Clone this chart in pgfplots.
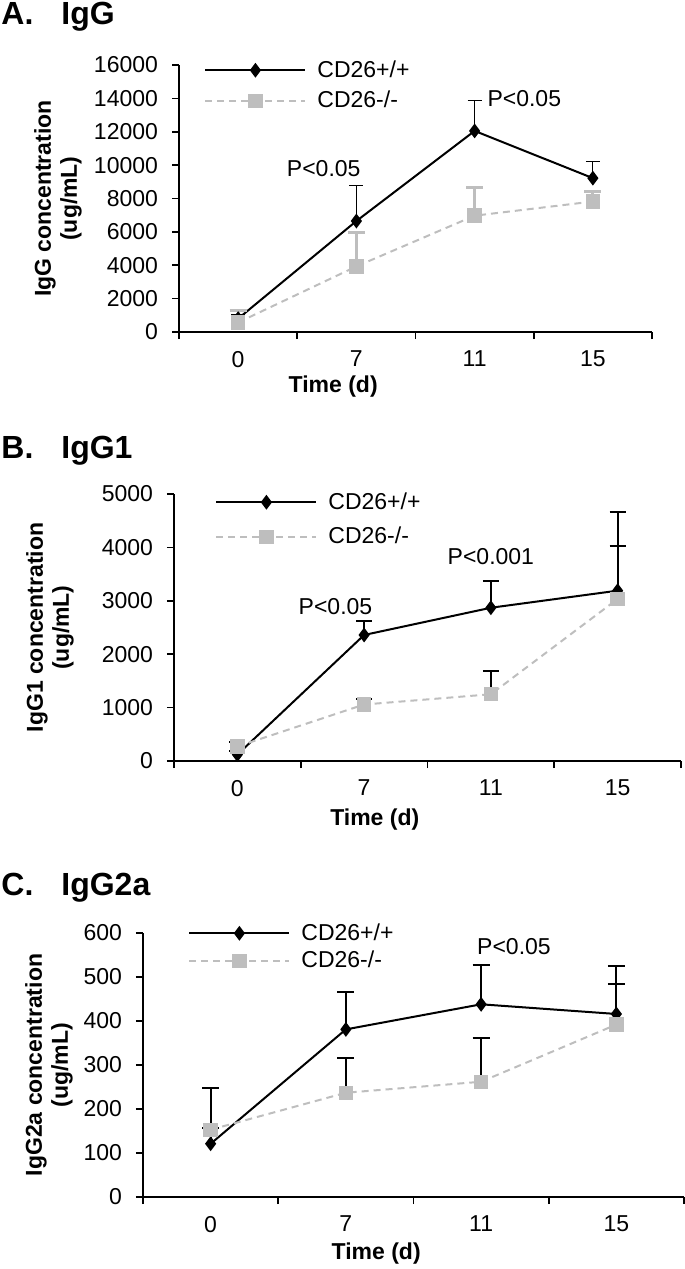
\documentclass[border=0pt]{standalone}
\usepackage{fontspec}
\setmainfont{Liberation Sans}
\usepackage{pgfplots}
\pgfplotsset{compat=1.18}

\definecolor{kogray}{RGB}{190,190,190}
\newcommand{\fs}{\fontsize{11.5}{13}\selectfont}

\pgfplotsset{
  igg/.style={
    scale only axis,
    anchor=south west,
    xmin=-0.5, xmax=3.5, ymin=0,
    axis x line*=bottom, axis y line*=left,
    axis line style={line width=0.9pt, -},
    xtick={0,1,2,3}, xticklabels={0,7,11,15},
    minor xtick={-0.5,0.5,1.5,2.5,3.5},
    major x tick style={draw=none},
    tick align=outside,
    major tick length=3.5pt, minor tick length=3.5pt,
    tick style={line width=0.8pt, black},
    scaled y ticks=false,
    /pgf/number format/assume math mode=true,
    /pgf/number format/1000 sep={},
    tick label style={font=\fs},
    yticklabel style={xshift=-3.5pt},
    xticklabel style={yshift=-2.5pt},
    label style={font=\bfseries\fs},
    ylabel style={anchor=center, align=center, rotate=0},
    xlabel style={anchor=center},
    legend style={draw=none, fill=none, inner sep=0pt, anchor=north west,
      cells={anchor=west}, font=\fs, column sep=3.5pt},
    legend image code/.code={\draw[mark repeat=2,mark phase=2,##1] plot coordinates {(0pt,0pt) (25pt,0pt) (50pt,0pt)};},
    clip=false,
  },
  wt/.style={black, line width=1pt, mark=diamond*, mark size=2.9pt,
    mark options={solid, fill=black}},
  ko/.style={kogray, line width=1pt, dash pattern=on 3.5pt off 2.5pt, mark=square*,
    mark size=3.1pt, mark options={solid, fill=kogray, draw=kogray}},
}

\begin{document}
\begin{tikzpicture}
\useasboundingbox (0,0) rectangle (342.5pt,-634.5pt);

% titles
\tikzset{ttl/.style={anchor=base west, inner sep=0pt, font=\bfseries\fontsize{16}{19}\selectfont}}
\node[ttl] at (0.5pt,-12.5pt) {A.};
\node[ttl] at (30.5pt,-12.5pt) {IgG};
\node[ttl] at (0.5pt,-229pt) {B.};
\node[ttl] at (30.5pt,-229pt) {IgG1};
\node[ttl] at (0.5pt,-447.5pt) {C.};
\node[ttl] at (30.5pt,-447.5pt) {IgG2a};

% ---- A. IgG
\begin{axis}[igg,
  at={(89.5pt,-166pt)}, width=236.5pt, height=133.5pt,
  ymax=16000, ytick={0,2000,...,16000},
  xlabel={Time (d)}, xlabel style={at={(axis description cs:0.326,-0.206)}},
  ylabel={IgG concentration\\(ug/mL)}, ylabel style={at={(axis description cs:-0.2558,0.5)}},
  legend style={at={(axis description cs:0.0529,1.0337)}, row sep=1.5pt},
]
\addplot[wt, error bars/.cd, y dir=plus, y explicit,
  error bar style={line width=0.5pt, black, solid},
  error mark options={rotate=90, black, line width=0.5pt, mark size=3.5pt, solid}]
  coordinates {(0,800) +- (0,220) (1,6650) +- (0,2100) (2,12050) +- (0,1800) (3,9220) +- (0,1020)};
\addlegendentry{\fs CD26+/+}
\addplot[ko, error bars/.cd, y dir=plus, y explicit,
  error bar style={line width=1.5pt, kogray, solid},
  error mark options={rotate=90, kogray, line width=1.5pt, mark size=4.2pt, solid}]
  coordinates {(0,570) +- (0,690) (1,3930) +- (0,2060) (2,6970) +- (0,1710) (3,7820) +- (0,600)};
\addlegendentry{\fs CD26-/-}
\node[font=\fs] at (axis cs:0.724,9820) {P<0.05};
\node[font=\fs] at (axis cs:2.42,13970) {P<0.05};
\end{axis}

% ---- B. IgG1
\begin{axis}[igg,
  at={(87pt,-380.5pt)}, width=253.5pt, height=133.5pt,
  ymax=5000, ytick={0,1000,...,5000},
  xlabel={Time (d)}, xlabel style={at={(axis description cs:0.396,-0.221)}},
  ylabel={IgG1 concentration\\(ug/mL)}, ylabel style={at={(axis description cs:-0.2446,0.5)}},
  legend style={at={(axis description cs:0.0809,1.0225)}, row sep=3.5pt},
]
\addplot[wt, error bars/.cd, y dir=plus, y explicit,
  error bar style={line width=1pt, black, solid},
  error mark options={rotate=90, black, line width=1pt, mark size=4pt, solid}]
  coordinates {(0,120) +- (0,60) (1,2360) +- (0,260) (2,2870) +- (0,500) (3,3190) +- (0,1470)};
\addlegendentry{\fs CD26+/+}
\addplot[ko, error bars/.cd, y dir=plus, y explicit,
  error bar style={line width=1pt, black, solid},
  error mark options={rotate=90, black, line width=1pt, mark size=4pt, solid}]
  coordinates {(0,271) +- (0,90) (1,1058) +- (0,100) (2,1250) +- (0,440) (3,3035) +- (0,985)};
\addlegendentry{\fs CD26-/-}
\node[font=\fs] at (axis cs:0.774,2900) {P<0.05};
\node[font=\fs] at (axis cs:2.0,3830) {P<0.001};
\end{axis}

% ---- C. IgG2a
\begin{axis}[igg,
  at={(71.5pt,-598.5pt)}, width=270.5pt, height=132pt,
  ymax=600, ytick={0,100,...,600},
  xlabel={Time (d)}, xlabel style={at={(axis description cs:0.431,-0.216)}},
  ylabel={IgG2a concentration\\(ug/mL)}, ylabel style={at={(axis description cs:-0.1738,0.5)}},
  legend style={at={(axis description cs:0.0832,1.053)}, row sep=0pt},
]
\addplot[wt, error bars/.cd, y dir=plus, y explicit,
  error bar style={line width=1pt, black, solid},
  error mark options={rotate=90, black, line width=1pt, mark size=4.2pt, solid}]
  coordinates {(0,121) +- (0,127) (1,381) +- (0,86) (2,438) +- (0,89) (3,416) +- (0,109)};
\addlegendentry{\fs CD26+/+}
\addplot[ko, error bars/.cd, y dir=plus, y explicit,
  error bar style={line width=1pt, black, solid},
  error mark options={rotate=90, black, line width=1pt, mark size=4.2pt, solid}]
  coordinates {(0,153) +- (0,3) (1,237) +- (0,78) (2,262) +- (0,100) (3,392) +- (0,92)};
\addlegendentry{\fs CD26-/-}
\node[font=\fs] at (axis cs:2.243,569) {P<0.05};
\end{axis}
\end{tikzpicture}
\end{document}
